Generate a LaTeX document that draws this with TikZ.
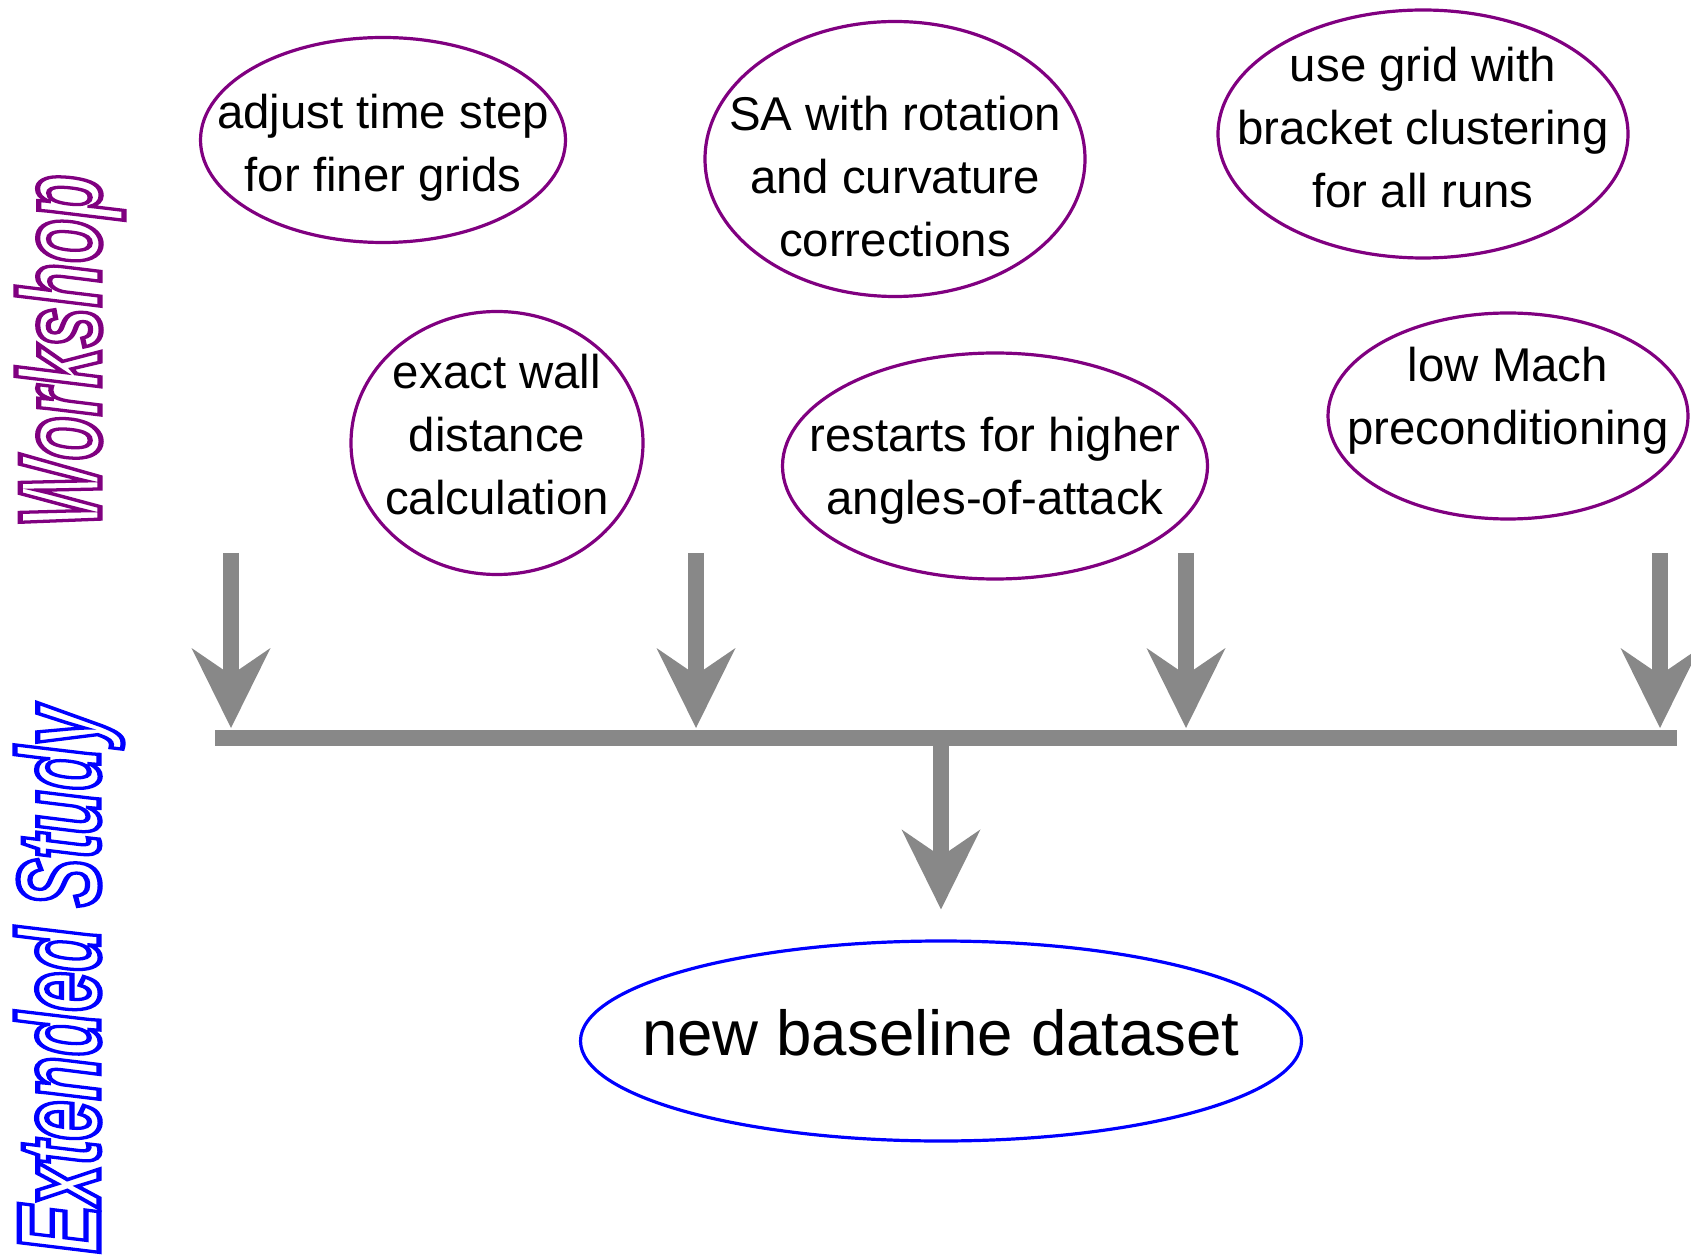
\documentclass[tikz,border=0pt]{standalone}
\usepackage{fontspec}
\setmainfont{Liberation Sans}
\usepackage{xcolor}
\usepackage{graphicx}
\usetikzlibrary{arrows.meta, shapes.geometric}

\definecolor{wsviolet}{RGB}{128,0,128}
\definecolor{esblue}{RGB}{0,0,255}
\definecolor{bargray}{RGB}{136,136,136}

% hollow letters for the two phase titles
\newcommand{\outlinetext}[1]{\special{pdf:literal direct 1 Tr 2.6 w}#1\special{pdf:literal direct 0 Tr}}

\begin{document}
\begin{tikzpicture}[
    x=0.5pt, y=-0.5pt,
    idea/.style={ellipse, draw=wsviolet, line width=1.6pt, inner sep=0pt},
    ideatext/.style={align=center, inner sep=0pt, font=\fontsize{23.7}{31.5}\selectfont},
    result/.style={ellipse, draw=esblue, line width=1.6pt, inner sep=0pt},
    resulttext/.style={align=center, inner sep=0pt, font=\fontsize{31.8}{38}\selectfont},
    phase/.style={rotate=90, anchor=base west, inner sep=0pt, font=\fontsize{58}{60}\selectfont\bfseries\itshape},
    bar/.style={line width=8pt, draw=bargray},
    arrow/.style={-{Stealth[length=40pt, width=39.5pt, inset=13.5pt, line width=0pt]}, line width=8pt, draw=bargray}
  ]
    \useasboundingbox (0,0) rectangle (1691,1256);

    % workshop items
    \node[idea, minimum width=182.5pt, minimum height=102.5pt,
      label={[ideatext, yshift=-4pt]center:{adjust time step\\for finer grids}}] (timestep) at (383,140) {};
    \node[idea, minimum width=190pt, minimum height=137.5pt,
      label={[ideatext, yshift=-9pt]center:{SA with rotation\\and curvature\\corrections}}] (sarc) at (895,159) {};
    \node[idea, minimum width=205pt, minimum height=124pt,
      label={[ideatext, yshift=3pt]center:{use grid with\\bracket clustering\\for all runs}}] (grid) at (1423,134) {};
    \node[idea, minimum width=146pt, minimum height=131.5pt,
      label={[ideatext, yshift=4pt]center:{exact wall\\distance\\calculation}}] (wall) at (497,443) {};
    \node[idea, minimum width=212.5pt, minimum height=113pt,
      label={[ideatext, yshift=-2.3pt]center:{restarts for higher\\angles-of-attack}}] (restart) at (995,466) {};
    \node[idea, minimum width=180pt, minimum height=103pt,
      label={[ideatext, yshift=7.7pt]center:{low Mach\\preconditioning}}] (lowmach) at (1508,416) {};

    % extended study result
    \node[result, minimum width=360.5pt, minimum height=100pt,
      label={[resulttext, yshift=4pt]center:{new baseline dataset}}] (base) at (941,1041) {};

    % phase titles
    \node[phase, text=wsviolet] (workshop) at (100,528) {\scalebox{0.625}[1]{\outlinetext{Workshop}}};
    \node[phase, text=esblue] (extended) at (99,1254) {\scalebox{0.625}[1]{\outlinetext{Extended Study}}};

    % collecting bar
    \coordinate (in1) at (231,553);
    \coordinate (in2) at (696,553);
    \coordinate (in3) at (1186,553);
    \coordinate (in4) at (1660,553);
    \coordinate (barL) at (215,738);
    \coordinate (barR) at (1677,738);
    \coordinate (barM) at (941,738);

    \draw[bar] (barL) -- (barR);
    \foreach \c in {in1,in2,in3,in4}
      \draw[arrow, shorten >=5pt] (\c) -- (\c |- barL);
    \draw[arrow, shorten >=15pt] (barM) -- (base);
  \end{tikzpicture}
\end{document}
